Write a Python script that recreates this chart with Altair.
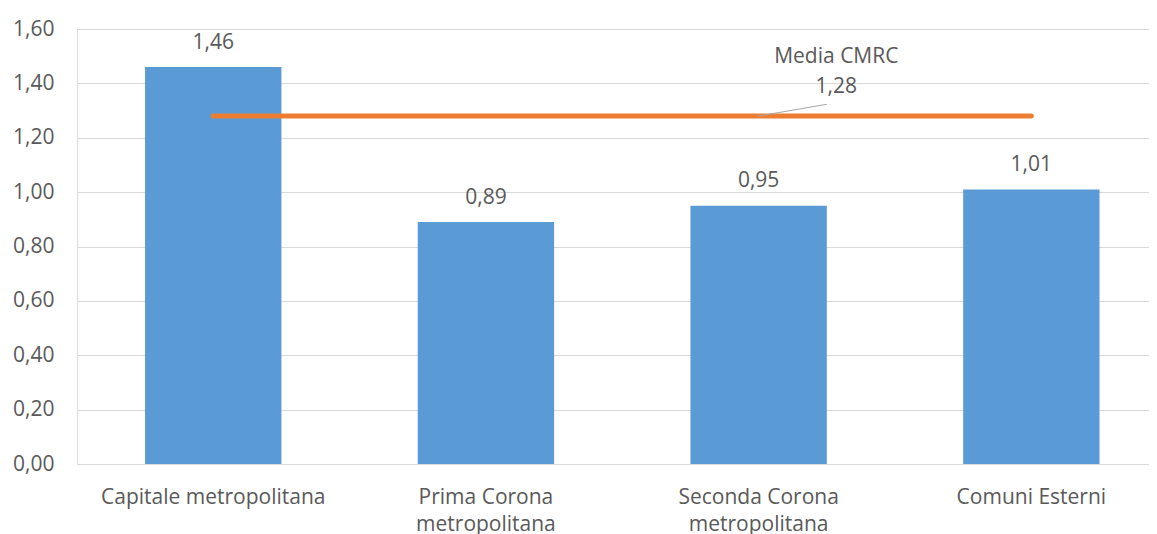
import altair as alt
import pandas as pd

categories = ["Capitale metropolitana", "Prima Corona metropolitana",
              "Seconda Corona metropolitana", "Comuni Esterni"]
values = [1.46, 0.89, 0.95, 1.01]
media_label = "Media CMRC"
media_value = 1.28
y_ticks = [0.0, 0.2, 0.4, 0.6, 0.8, 1.0, 1.2, 1.4, 1.6]

FONT = "Open Sans"
FS = 21
TXT = "#595959"

df = pd.DataFrame({"cat": categories, "val": values})
df_line = pd.DataFrame({"cat": categories, "val": [media_value] * len(categories)})
df_ann = pd.DataFrame({"cat": [categories[2]], "val": [media_value],
                       "name": [media_label], "y2": [1.323]})

xscale = alt.Scale(domain=categories, paddingInner=0.5, paddingOuter=0.2155, align=0.579)
yscale = alt.Scale(domain=[0, 1.6], nice=False)

xenc = alt.X("cat:N", scale=xscale, sort=categories, title=None,
             axis=alt.Axis(labelAngle=0, domain=False, ticks=False, tickSize=0,
                           labelPadding=22, labelFont=FONT, labelFontSize=FS,
                           labelColor=TXT, labelLineHeight=27, labelLimit=400,
                           labelExpr="indexof(datum.label, 'Corona') >= 0 ? [slice(datum.label, 0, indexof(datum.label, ' metropolitana')), 'metropolitana'] : datum.label"))
yenc = alt.Y("val:Q", scale=yscale, title=None,
             axis=alt.Axis(values=y_ticks, domain=False, ticks=False, tickSize=0,
                           labelPadding=23, labelFont=FONT, labelFontSize=FS,
                           labelColor=TXT, gridColor="#D9D9D9", gridWidth=1,
                           labelExpr="replace(format(datum.value, '.2f'), '.', ',')"))

bars = alt.Chart(df).mark_bar(color="#5B9BD5").encode(x=xenc, y=yenc)

bar_labels = alt.Chart(df).transform_calculate(
    lbl="replace(format(datum.val, '.2f'), '.', ',')"
).mark_text(font=FONT, fontSize=FS, color=TXT, baseline="alphabetic", dy=-18.5).encode(
    x=alt.X("cat:N", sort=categories), y=alt.Y("val:Q"), text="lbl:N")

line = alt.Chart(df_line).mark_line(color="#ED7D31", strokeWidth=5, strokeCap="round").encode(
    x=alt.X("cat:N", sort=categories), y=alt.Y("val:Q"))

leader = alt.Chart(df_ann).mark_rule(color="#A6A6A6", strokeWidth=1).encode(
    x=alt.X("cat:N", sort=categories, bandPosition=0.5),
    x2=alt.X2("cat:N", bandPosition=1.0),
    y=alt.Y("val:Q"), y2="y2:Q")

ann_name = alt.Chart(df_ann).mark_text(font=FONT, fontSize=FS, color=TXT, baseline="middle",
                                       dx=9.5, dy=-59).encode(
    x=alt.X("cat:N", sort=categories, bandPosition=1.0), y=alt.Y("val:Q"), text="name:N")

ann_val = alt.Chart(df_ann).transform_calculate(
    lbl="replace(format(datum.val, '.2f'), '.', ',')"
).mark_text(font=FONT, fontSize=FS, color=TXT, baseline="middle", dx=9.5, dy=-29).encode(
    x=alt.X("cat:N", sort=categories, bandPosition=1.0), y=alt.Y("val:Q"), text="lbl:N")

chart = alt.layer(bars, line, bar_labels, leader, ann_name, ann_val).properties(
    width=1072, height=435,
    autosize=alt.AutoSizeParams(type="none"),
    padding={"left": 69, "top": 21, "right": 0, "bottom": 70},
).configure_view(stroke=None).configure(background="white")

chart.save("out.html", embed_options={"renderer": "svg", "actions": False})
